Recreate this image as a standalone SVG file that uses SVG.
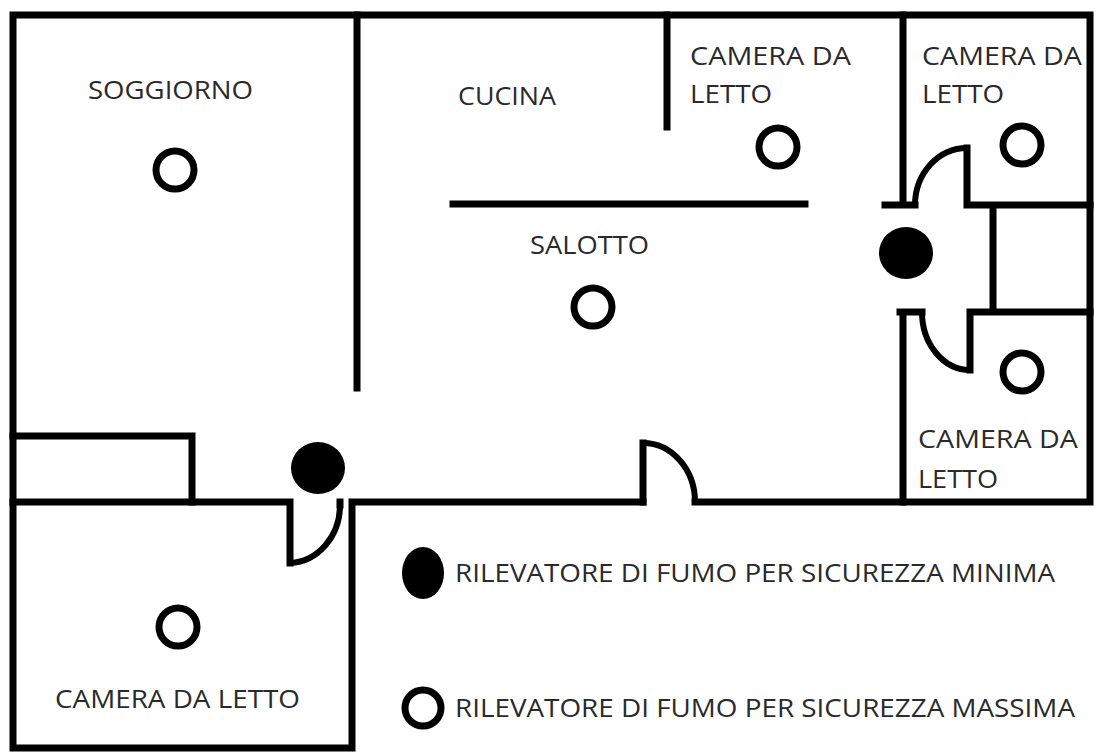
<svg xmlns="http://www.w3.org/2000/svg" width="1101" height="756" viewBox="0 0 1101 756">
<style>
.w{fill:none;stroke:#000;stroke-width:7;stroke-linecap:square}
.o{fill:none;stroke:#000;stroke-width:6}
.c{fill:none;stroke:#000;stroke-width:7}
.f{fill:#000}
text{font-family:"Open Sans","Liberation Sans",sans-serif;font-size:25px;fill:#2a2a2a}
</style>
<rect width="1101" height="756" fill="#fff"/>
<g id="walls">
<path class="w" d="M13 15H1090V502H695M643 502H352V748H13V15"/>
<path class="w" d="M13 502H290V563M340 505V502"/>
<path class="w" d="M13 436H192V502"/>
<path class="w" d="M357 15V388M453 204H805M667 15V127"/>
<path class="w" d="M903 15V203M885 205H915M967 148V205H1090M993 205V312M970 312H1090M970 312V370M900 312H922M903 312V502"/>
<path class="w" d="M643 502V443"/>
</g>
<g id="doors">
<path class="o" d="M290 563A52 58 0 0 0 340 505"/>
<path class="o" d="M643 443A52 59 0 0 1 695 502"/>
<path class="o" d="M915 205A52 57 0 0 1 967 148"/>
<path class="o" d="M922 312A48 58 0 0 0 970 370"/>
</g>
<g id="detectors">
<circle class="c" cx="175" cy="170" r="19"/>
<circle class="c" cx="593" cy="307" r="19"/>
<circle class="c" cx="778" cy="147" r="19"/>
<circle class="c" cx="1022" cy="145" r="19"/>
<circle class="c" cx="1022" cy="372" r="19"/>
<circle class="c" cx="178" cy="627" r="19"/>
<circle class="c" cx="423" cy="708" r="18"/>
<ellipse class="f" cx="318" cy="468" rx="27" ry="26"/>
<ellipse class="f" cx="906" cy="253" rx="27" ry="26"/>
<ellipse class="f" cx="423" cy="573" rx="21" ry="26"/>
</g>
<g id="labels">
<text x="88" y="99" textLength="165" lengthAdjust="spacingAndGlyphs">SOGGIORNO</text>
<text x="458" y="105" textLength="98" lengthAdjust="spacingAndGlyphs">CUCINA</text>
<text x="530" y="254" textLength="119" lengthAdjust="spacingAndGlyphs">SALOTTO</text>
<text x="690" y="65" textLength="161" lengthAdjust="spacingAndGlyphs">CAMERA DA</text><text x="690" y="103" textLength="82" lengthAdjust="spacingAndGlyphs">LETTO</text>
<text x="922" y="65" textLength="160" lengthAdjust="spacingAndGlyphs">CAMERA DA</text><text x="922" y="103" textLength="82" lengthAdjust="spacingAndGlyphs">LETTO</text>
<text x="918" y="448" textLength="160" lengthAdjust="spacingAndGlyphs">CAMERA DA</text><text x="918" y="488" textLength="80" lengthAdjust="spacingAndGlyphs">LETTO</text>
<text x="55" y="708" textLength="245" lengthAdjust="spacingAndGlyphs">CAMERA DA LETTO</text>
<text x="455" y="582" textLength="600" lengthAdjust="spacingAndGlyphs">RILEVATORE DI FUMO PER SICUREZZA MINIMA</text>
<text x="455" y="717" textLength="620" lengthAdjust="spacingAndGlyphs">RILEVATORE DI FUMO PER SICUREZZA MASSIMA</text>
</g>
</svg>
